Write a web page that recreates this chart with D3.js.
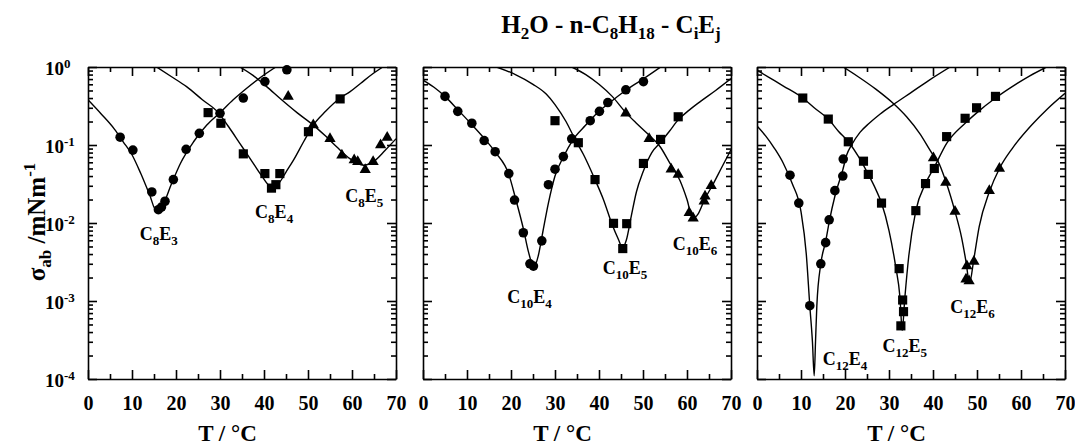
<!DOCTYPE html>
<html>
<head>
<meta charset="utf-8">
<script src="https://cdn.jsdelivr.net/npm/d3@7"></script>
<style>
body { margin: 0; background: #fff; }
text { font-family: "Liberation Serif", "Times New Roman", serif; font-weight: bold; fill: #000; }
</style>
</head>
<body>
<script>
// tick labels
const xTicks = [0, 10, 20, 30, 40, 50, 60, 70];
const xMinor = [5, 15, 25, 35, 45, 55, 65];
const yExp = [0, -1, -2, -3, -4];

// ---- panel 1 : C8Ej ----
const c8e3T = [7.3, 10.2, 14.5, 16.0, 16.7, 17.5, 19.4, 22.3, 25.3, 30.0, 35.3, 40.2, 45.2];
const c8e3S = [0.126, 0.086, 0.025, 0.0148, 0.016, 0.019, 0.036, 0.088, 0.141, 0.255, 0.40, 0.65, 0.92];
const c8e4T = [27.3, 30.2, 35.3, 40.2, 41.7, 42.7, 43.6, 50.1, 57.3];
const c8e4S = [0.26, 0.19, 0.077, 0.043, 0.028, 0.031, 0.043, 0.148, 0.39];
const c8e5T = [45.5, 51.2, 55.0, 57.7, 60.5, 61.3, 63.0, 64.8, 66.5, 68.0];
const c8e5S = [0.42, 0.18, 0.12, 0.074, 0.064, 0.061, 0.048, 0.061, 0.10, 0.125];

const c8e3FitT = [0, 3, 6, 8, 10, 12, 14, 15.5, 17, 19, 21, 24, 27, 30, 33, 36, 39, 42.7];
const c8e3FitS = [0.38, 0.25, 0.16, 0.11, 0.075, 0.043, 0.023, 0.0145, 0.017, 0.032, 0.058, 0.11, 0.18, 0.26, 0.38, 0.53, 0.72, 1.0];
const c8e4FitT = [15.6, 19, 22.4, 26, 29.6, 32, 34.5, 37, 39.5, 41.7, 43.5, 45, 46.7, 49, 51.2, 54, 57.3, 59.5, 62, 64.5, 67];
const c8e4FitS = [1.0, 0.75, 0.56, 0.38, 0.26, 0.17, 0.105, 0.065, 0.04, 0.029, 0.033, 0.045, 0.064, 0.11, 0.18, 0.27, 0.40, 0.48, 0.62, 0.8, 1.0];
const c8e5FitT = [34.5, 37.5, 40.6, 44, 47.5, 51.2, 54, 56.5, 59.5, 62.6, 65, 67.5, 70];
const c8e5FitS = [1.0, 0.78, 0.56, 0.38, 0.26, 0.18, 0.13, 0.095, 0.067, 0.055, 0.062, 0.085, 0.12];

// ---- panel 2 : C10Ej ----
const c10e4T = [5.0, 7.9, 11.1, 13.9, 16.4, 19.5, 20.8, 22.8, 24.3, 25.1, 27.0, 28.5, 30.0, 31.9, 33.8, 38.0, 40.1, 42.0, 46.1, 50.1];
const c10e4S = [0.42, 0.27, 0.19, 0.114, 0.082, 0.043, 0.0197, 0.0075, 0.0030, 0.0028, 0.0059, 0.031, 0.049, 0.071, 0.12, 0.205, 0.27, 0.35, 0.51, 0.65];
const c10e5T = [30.0, 35.3, 39.1, 43.3, 45.4, 46.3, 50.1, 54.0, 58.0];
const c10e5S = [0.205, 0.107, 0.036, 0.0099, 0.0047, 0.0098, 0.058, 0.118, 0.23];
const c10e6T = [46.1, 51.4, 56.4, 58.0, 60.5, 61.4, 63.9, 64.1, 65.5];
const c10e6S = [0.255, 0.12, 0.049, 0.042, 0.0135, 0.0115, 0.019, 0.022, 0.03];

const c10e4FitT = [0, 2.5, 5, 8, 11, 14, 16.5, 19.5, 21, 22.8, 24, 25.2, 26.2, 27.2, 28.5, 30, 32, 34, 37, 40, 43, 46, 50, 54];
const c10e4FitS = [0.68, 0.55, 0.42, 0.28, 0.185, 0.12, 0.08, 0.042, 0.021, 0.0085, 0.0042, 0.0027, 0.0038, 0.0075, 0.018, 0.04, 0.072, 0.115, 0.18, 0.27, 0.37, 0.5, 0.7, 1.0];
const c10e5FitT = [16.7, 21, 25, 28, 30, 32.5, 34.5, 36.5, 39, 41, 43, 44.5, 45.3, 46.2, 47.3, 48.5, 50, 52, 54, 56, 58, 60.5, 63, 66.5, 70];
const c10e5FitS = [1.0, 0.8, 0.6, 0.45, 0.33, 0.2, 0.12, 0.075, 0.037, 0.02, 0.0095, 0.006, 0.0048, 0.006, 0.012, 0.025, 0.045, 0.08, 0.108, 0.15, 0.21, 0.28, 0.36, 0.5, 0.71];
const c10e6FitT = [33.8, 37, 40, 43, 46.1, 48.5, 51, 53.9, 56, 58.4, 60, 61.3, 62.5, 64, 66, 68, 70];
const c10e6FitS = [1.0, 0.8, 0.6, 0.42, 0.26, 0.19, 0.14, 0.095, 0.06, 0.035, 0.02, 0.0115, 0.013, 0.02, 0.032, 0.053, 0.087];

// ---- panel 3 : C12Ej ----
const c12e4T = [7.5, 9.5, 12.0, 14.5, 15.6, 16.4, 17.7, 19.5, 19.6];
const c12e4S = [0.041, 0.018, 0.00087, 0.0030, 0.0056, 0.011, 0.026, 0.040, 0.066];
const c12e5T = [10.4, 16.2, 20.75, 24.2, 25.3, 28.3, 32.3, 33.1, 33.3, 32.7, 36.1, 38.3, 40.3, 43.1, 47.3, 49.9, 54.2];
const c12e5S = [0.40, 0.215, 0.11, 0.062, 0.042, 0.018, 0.0026, 0.00103, 0.00073, 0.00048, 0.0144, 0.032, 0.050, 0.128, 0.22, 0.30, 0.42];
const c12e6T = [40.1, 42.9, 45.0, 47.7, 49.3, 47.5, 48.2, 52.8, 55.1];
const c12e6S = [0.068, 0.033, 0.014, 0.0028, 0.0032, 0.0019, 0.0018, 0.026, 0.050];

const c12e4FitT = [0, 2, 4, 6, 8, 10, 11.2, 12.0, 12.6, 13.0, 13.3, 13.6, 14.5, 15.6, 16.5, 17.7, 19.5, 20.4, 21.5, 23.4, 25.5, 28, 31, 35, 39, 43.9];
const c12e4FitS = [0.175, 0.13, 0.09, 0.058, 0.032, 0.014, 0.004, 0.00087, 0.0003, 0.00011, 0.0003, 0.00087, 0.003, 0.0058, 0.011, 0.022, 0.048, 0.075, 0.1, 0.145, 0.19, 0.25, 0.33, 0.47, 0.67, 1.0];
const c12e5FitT = [0, 3, 6, 10.4, 13, 16.2, 18.5, 20.75, 23, 25.3, 27, 28.3, 30, 31.5, 32.5, 33.0, 33.6, 34.5, 36.1, 38.3, 40.3, 43.1, 47.3, 50, 54.2, 58, 62, 65.8];
const c12e5FitS = [0.91, 0.72, 0.57, 0.4, 0.3, 0.215, 0.15, 0.11, 0.072, 0.042, 0.027, 0.018, 0.008, 0.0028, 0.0011, 0.00042, 0.0011, 0.0038, 0.0144, 0.032, 0.052, 0.105, 0.19, 0.26, 0.4, 0.56, 0.77, 1.0];
const c12e6FitT = [19.6, 23, 27, 31, 34, 37, 40, 41.1, 43, 45, 46.5, 47.5, 48.3, 49.3, 50.5, 52.8, 55.1, 58, 62.8, 66, 70];
const c12e6FitS = [1.0, 0.75, 0.52, 0.34, 0.23, 0.14, 0.075, 0.062, 0.033, 0.014, 0.0065, 0.0032, 0.0017, 0.0035, 0.009, 0.025, 0.05, 0.09, 0.19, 0.29, 0.46];

// label anchors (T, sigma) for the surfactant names
const labelNames = [["8", "3"], ["8", "4"], ["8", "5"], ["10", "4"], ["10", "5"], ["10", "6"], ["12", "4"], ["12", "5"], ["12", "6"]];
const labelT = [16.1, 42.3, 62.8, 24.2, 45.9, 61.8, 20.0, 33.6, 49.0];
const labelS = [0.0061, 0.0116, 0.0186, 0.00094, 0.0022, 0.0045, 0.00015, 0.00022, 0.0007];

const zip = (a, b) => a.map((v, i) => [v, b[i]]);

const width = 1075, height = 448;
const panelW = 308;
const plotTop = 67, plotBottom = 379;

const circle = d3.symbol().type(d3.symbolCircle).size(72);
const square = d3.symbol().type(d3.symbolSquare).size(84);
const triangle = d3.symbol().type(d3.symbolTriangle).size(55);

const panels = [
  { x0: 88, series: [
      { pts: zip(c8e3T, c8e3S), fit: zip(c8e3FitT, c8e3FitS), sym: circle },
      { pts: zip(c8e4T, c8e4S), fit: zip(c8e4FitT, c8e4FitS), sym: square },
      { pts: zip(c8e5T, c8e5S), fit: zip(c8e5FitT, c8e5FitS), sym: triangle }] },
  { x0: 423, series: [
      { pts: zip(c10e4T, c10e4S), fit: zip(c10e4FitT, c10e4FitS), sym: circle },
      { pts: zip(c10e5T, c10e5S), fit: zip(c10e5FitT, c10e5FitS), sym: square },
      { pts: zip(c10e6T, c10e6S), fit: zip(c10e6FitT, c10e6FitS), sym: triangle }] },
  { x0: 757, series: [
      { pts: zip(c12e4T, c12e4S), fit: zip(c12e4FitT, c12e4FitS), sym: circle },
      { pts: zip(c12e5T, c12e5S), fit: zip(c12e5FitT, c12e5FitS), sym: square },
      { pts: zip(c12e6T, c12e6S), fit: zip(c12e6FitT, c12e6FitS), sym: triangle }] }
];

const svg = d3.select("body").append("svg")
  .attr("width", width)
  .attr("height", height);

// title
const title = svg.append("text")
  .attr("x", 611).attr("y", 33)
  .attr("text-anchor", "middle")
  .style("font-size", "25px");
[["H", 0], ["2", 1], ["O - n-C", 0], ["8", 1], ["H", 0], ["18", 1], [" - C", 0], ["i", 1], ["E", 0], ["j", 1]]
  .forEach(function(p, i, arr) {
    const prevSub = i > 0 && arr[i - 1][1];
    let dy = 0;
    if (p[1] && !prevSub) dy = 6;
    if (!p[1] && prevSub) dy = -6;
    title.append("tspan").attr("dy", dy)
      .style("font-size", p[1] ? "17px" : "25px")
      .text(p[0]);
  });

// y axis title
const yTitle = svg.append("text")
  .attr("transform", "translate(45,222) rotate(-90)")
  .attr("text-anchor", "middle")
  .style("font-size", "25px");
yTitle.append("tspan").text("σ");
yTitle.append("tspan").attr("dy", 6).style("font-size", "17px").text("ab");
yTitle.append("tspan").attr("dy", -6).text(" /mNm");
yTitle.append("tspan").attr("dy", -10).style("font-size", "17px").text("-1");

panels.forEach(function(p, pi) {
  const x = d3.scaleLinear().domain([0, 70]).range([p.x0, p.x0 + panelW]);
  const y = d3.scaleLog().domain([1e-4, 1]).range([plotBottom, plotTop]);
  const decades = yExp.map(e => Math.pow(10, e));
  const minor = y.ticks().filter(v => !decades.some(d => Math.abs(v / d - 1) < 1e-6));

  const g = svg.append("g");

  // bottom
  g.append("g").attr("transform", "translate(0," + plotBottom + ")")
    .call(d3.axisBottom(x).tickValues(xTicks).tickSizeInner(-9).tickSizeOuter(0).tickPadding(17).tickFormat(d3.format("d")))
    .call(a => a.selectAll("text").style("font-size", "20px").attr("font-family", null));
  g.append("g").attr("transform", "translate(0," + plotBottom + ")")
    .call(d3.axisBottom(x).tickValues(xMinor).tickSizeInner(-5).tickSizeOuter(0).tickFormat(""))
    .call(a => a.select(".domain").remove());
  // top
  g.append("g").attr("transform", "translate(0," + plotTop + ")")
    .call(d3.axisTop(x).tickValues(xTicks).tickSizeInner(-9).tickSizeOuter(0).tickFormat(""));
  g.append("g").attr("transform", "translate(0," + plotTop + ")")
    .call(d3.axisTop(x).tickValues(xMinor).tickSizeInner(-5).tickSizeOuter(0).tickFormat(""))
    .call(a => a.select(".domain").remove());
  // left
  g.append("g").attr("transform", "translate(" + p.x0 + ",0)")
    .call(d3.axisLeft(y).tickValues(decades).tickSizeInner(-9).tickSizeOuter(0).tickFormat(""));
  g.append("g").attr("transform", "translate(" + p.x0 + ",0)")
    .call(d3.axisLeft(y).tickValues(minor).tickSizeInner(-5).tickSizeOuter(0).tickFormat(""))
    .call(a => a.select(".domain").remove());
  // right
  g.append("g").attr("transform", "translate(" + (p.x0 + panelW) + ",0)")
    .call(d3.axisRight(y).tickValues(decades).tickSizeInner(-9).tickSizeOuter(0).tickFormat(""));
  g.append("g").attr("transform", "translate(" + (p.x0 + panelW) + ",0)")
    .call(d3.axisRight(y).tickValues(minor).tickSizeInner(-5).tickSizeOuter(0).tickFormat(""))
    .call(a => a.select(".domain").remove());

  g.selectAll(".domain, .tick line").attr("stroke-width", 1.6);

  // decade labels on the first panel only
  if (pi === 0) {
    yExp.forEach(function(e) {
      const t = svg.append("text")
        .attr("x", 45).attr("y", y(Math.pow(10, e)) + 8)
        .style("font-size", "19px");
      t.append("tspan").text("10");
      t.append("tspan").attr("dy", -7).style("font-size", "13px").text(e === 0 ? "0" : "-" + (-e));
    });
  }

  // x title
  svg.append("text")
    .attr("x", x(31.7)).attr("y", 441)
    .attr("text-anchor", "middle")
    .style("font-size", "23px")
    .text("T / °C");

  // clip
  svg.append("clipPath").attr("id", "clip" + pi)
    .append("rect").attr("x", p.x0).attr("y", plotTop).attr("width", panelW).attr("height", plotBottom - plotTop);

  const line = d3.line()
    .x(d => x(d[0]))
    .y(d => y(d[1]))
    .curve(d3.curveMonotoneX);

  const plot = svg.append("g").attr("clip-path", "url(#clip" + pi + ")");
  p.series.forEach(function(s) {
    plot.append("path")
      .datum(s.fit)
      .attr("d", line)
      .attr("fill", "none")
      .attr("stroke", "#000")
      .attr("stroke-width", 1.4);
  });
  p.series.forEach(function(s) {
    svg.append("g").selectAll("path")
      .data(s.pts)
      .enter()
      .append("path")
      .attr("d", s.sym)
      .attr("transform", d => "translate(" + x(d[0]) + "," + y(d[1]) + ")")
      .attr("fill", "#000");
  });

  // compound labels
  for (let k = pi * 3; k < pi * 3 + 3; k++) {
    const t = svg.append("text")
      .attr("x", x(labelT[k])).attr("y", y(labelS[k]))
      .attr("text-anchor", "middle")
      .style("font-size", "18px");
    t.append("tspan").text("C");
    t.append("tspan").attr("dy", 5).style("font-size", "13px").text(labelNames[k][0]);
    t.append("tspan").attr("dy", -5).text("E");
    t.append("tspan").attr("dy", 5).style("font-size", "13px").text(labelNames[k][1]);
  }
});
</script>
</body>
</html>
